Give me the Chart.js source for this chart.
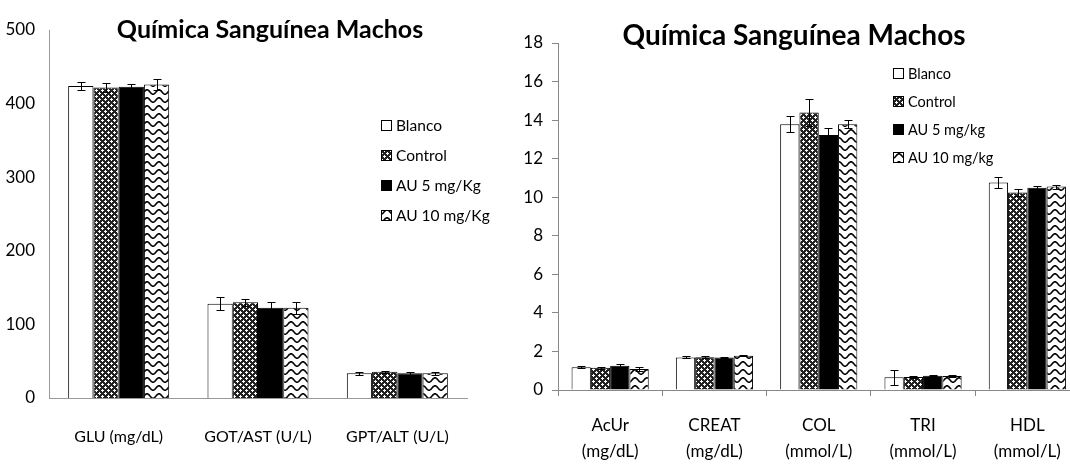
<!DOCTYPE html>
<html>
<head>
<meta charset="utf-8">
<script src="https://cdn.jsdelivr.net/npm/chart.js@4.4.1/dist/chart.umd.min.js"></script>
<style>
  html, body { margin: 0; padding: 0; background: #fff; }
  #left { position: absolute; left: 0; top: 0; width: 500px; height: 466px; }
  #right { position: absolute; left: 500px; top: 0; width: 570px; height: 466px; overflow: hidden; }
</style>
</head>
<body>
<div id="left"><canvas id="left-chart" width="500" height="466"></canvas></div>
<div id="right"><canvas id="right-chart" width="590" height="466"></canvas></div>
<script>
// ---- data ----
const titleText = "Química Sanguínea Machos";

const leftLabels = ["Blanco", "Control", "AU 5 mg/Kg", "AU 10 mg/Kg"];
const leftCategories = ["GLU (mg/dL)", "GOT/AST (U/L)", "GPT/ALT (U/L)"];
const leftBlanco = [424, 128, 33.5];
const leftBlancoErr = [6, 9, 2];
const leftControl = [422, 130, 35.5];
const leftControlErr = [6, 5, 1.5];
const leftAU5 = [423, 122.5, 33.5];
const leftAU5Err = [3, 8, 2];
const leftAU10 = [426, 122.5, 33.5];
const leftAU10Err = [8, 8, 2];
const leftTicks = [0, 100, 200, 300, 400, 500];

const rightLabels = ["Blanco", "Control", "AU 5 mg/kg", "AU 10 mg/kg"];
const rightCategories = [
  ["AcUr", "(mg/dL)"],
  ["CREAT", "(mg/dL)"],
  ["COL", "(mmol/L)"],
  ["TRI", "(mmol/L)"],
  ["HDL", "(mmol/L)"],
];
const rightBlanco = [1.18, 1.69, 13.78, 0.66, 10.77];
const rightBlancoErr = [0.05, 0.05, 0.41, 0.39, 0.29];
const rightControl = [1.16, 1.7, 14.4, 0.68, 10.25];
const rightControlErr = [0.05, 0.05, 0.7, 0.05, 0.2];
const rightAU5 = [1.26, 1.69, 13.23, 0.74, 10.49];
const rightAU5Err = [0.1, 0.03, 0.35, 0.03, 0.1];
const rightAU10 = [1.09, 1.78, 13.78, 0.72, 10.55];
const rightAU10Err = [0.12, 0.03, 0.2, 0.04, 0.1];

// ---- fill patterns ----
const makeTile = (w, h, draw) => {
  const c = document.createElement("canvas");
  c.width = w;
  c.height = h;
  draw(c.getContext("2d"));
  return document.createElement("canvas").getContext("2d").createPattern(c, "repeat");
};

const checkPattern = makeTile(6, 6, (g) => {
  g.fillStyle = "#222";
  g.fillRect(0, 0, 6, 6);
  g.fillStyle = "#fff";
  g.fillRect(3, 2, 1, 3);
  g.fillRect(2, 3, 3, 1);
  g.fillRect(0, 0, 1, 1);
  g.fillRect(5, 0, 1, 1);
  g.fillRect(0, 5, 1, 1);
  g.fillRect(1, 0, 1, 1);
  g.fillRect(0, 1, 1, 1);
});

const wavePattern = makeTile(12, 8, (g) => {
  g.fillStyle = "#fff";
  g.fillRect(0, 0, 12, 8);
  g.strokeStyle = "#000";
  g.lineWidth = 1.6;
  g.beginPath();
  for (let x = -1; x <= 13; x += 0.5) {
    const y = 4 - 2.2 * Math.sin((2 * Math.PI * x) / 12);
    if (x === -1) g.moveTo(x, y);
    else g.lineTo(x, y);
  }
  g.stroke();
});

const fills = ["#fff", checkPattern, "#000", wavePattern];

// ---- plugins ----
const errorBars = {
  id: "errorBars",
  afterDatasetsDraw(chart) {
    const { ctx } = chart;
    const y = chart.scales.y;
    ctx.save();
    ctx.strokeStyle = "#000";
    ctx.lineWidth = 1;
    chart.data.datasets.forEach((ds, i) => {
      chart.getDatasetMeta(i).data.forEach((bar, j) => {
        const v = ds.data[j];
        const e = ds.errors[j];
        const top = Math.round(y.getPixelForValue(v + e)) + 0.5;
        const bot = Math.round(y.getPixelForValue(v - e)) + 0.5;
        const x = Math.round(bar.x) + 0.5;
        ctx.beginPath();
        ctx.moveTo(x, top);
        ctx.lineTo(x, bot);
        ctx.moveTo(x - 4, top);
        ctx.lineTo(x + 4, top);
        ctx.moveTo(x - 4, bot);
        ctx.lineTo(x + 4, bot);
        ctx.stroke();
      });
    });
    ctx.restore();
  },
};

const decor = {
  id: "decor",
  afterDraw(chart, args, opts) {
    const { ctx } = chart;
    ctx.save();
    ctx.fillStyle = "#000";
    ctx.textAlign = "center";
    ctx.textBaseline = "middle";
    ctx.font = opts.titleFont;
    ctx.fillText(opts.title, opts.titleX, opts.titleY);
    ctx.font = opts.legendFont;
    ctx.textAlign = "left";
    chart.data.datasets.forEach((ds, i) => {
      const cy = opts.legendY + i * opts.legendGap;
      ctx.fillStyle = ds.backgroundColor;
      ctx.fillRect(opts.legendX, cy - 5, 10, 10);
      ctx.strokeStyle = "#000";
      ctx.lineWidth = 1;
      ctx.strokeRect(opts.legendX + 0.5, cy - 4.5, 10, 10);
      ctx.fillStyle = "#000";
      ctx.fillText(ds.label, opts.legendX + 15, cy + 1);
    });
    ctx.restore();
  },
};

const makeDatasets = (labels, values, errors) =>
  labels.map((label, i) => ({
    label: label,
    data: values[i],
    errors: errors[i],
    backgroundColor: fills[i],
    borderColor: "#000",
    borderWidth: 1,
  }));

Chart.defaults.font.family = "Lato, 'Open Sans', sans-serif";
Chart.defaults.color = "#000";

new Chart(document.querySelector("#left-chart"), {
  type: "bar",
  data: {
    labels: leftCategories,
    datasets: makeDatasets(
      leftLabels,
      [leftBlanco, leftControl, leftAU5, leftAU10],
      [leftBlancoErr, leftControlErr, leftAU5Err, leftAU10Err]
    ),
  },
  options: {
    responsive: false,
    animation: false,
    layout: { padding: { top: 30, right: 33, left: 0, bottom: 0 } },
    datasets: { bar: { categoryPercentage: 0.725, barPercentage: 1 } },
    plugins: {
      legend: { display: false },
      tooltip: { enabled: false },
      decor: {
        title: titleText,
        titleX: 270,
        titleY: 30,
        titleFont: "bold 25px Lato, sans-serif",
        legendX: 381,
        legendY: 125,
        legendGap: 30,
        legendFont: "15.5px Lato, sans-serif",
      },
    },
    scales: {
      x: {
        grid: { display: false },
        border: { display: true, color: "#999" },
        ticks: { font: { size: 16 }, padding: 21 },
        afterFit: (s) => { s.height = 68; },
      },
      y: {
        min: 0,
        max: 500,
        grid: { display: false, drawTicks: false },
        border: { display: true, color: "#999" },
        afterBuildTicks: (s) => { s.ticks = leftTicks.map((v) => ({ value: v })); },
        ticks: { font: { size: 17 }, padding: 14 },
        afterFit: (s) => { s.width = 49; },
      },
    },
  },
  plugins: [errorBars, decor],
});

new Chart(document.querySelector("#right-chart"), {
  type: "bar",
  data: {
    labels: rightCategories,
    datasets: makeDatasets(
      rightLabels,
      [rightBlanco, rightControl, rightAU5, rightAU10],
      [rightBlancoErr, rightControlErr, rightAU5Err, rightAU10Err]
    ),
  },
  options: {
    responsive: false,
    animation: false,
    layout: { padding: { top: 43, right: 10.5, left: 0, bottom: 0 } },
    datasets: { bar: { categoryPercentage: 0.74, barPercentage: 1 } },
    plugins: {
      legend: { display: false },
      tooltip: { enabled: false },
      decor: {
        title: titleText,
        titleX: 294,
        titleY: 36,
        titleFont: "bold 28px Lato, sans-serif",
        legendX: 393,
        legendY: 73,
        legendGap: 28,
        legendFont: "14.5px Lato, sans-serif",
      },
    },
    scales: {
      x: {
        grid: { display: true, drawOnChartArea: false, tickLength: 6, color: "#888" },
        border: { display: true, color: "#888" },
        ticks: { font: { size: 17, lineHeight: 1.5 }, padding: 17 },
        afterFit: (s) => { s.height = 76; },
      },
      y: {
        min: 0,
        max: 18,
        grid: { display: true, drawOnChartArea: false, tickLength: 6, color: "#888" },
        border: { display: true, color: "#888" },
        ticks: { stepSize: 2, font: { size: 17 }, padding: 9 },
        afterFit: (s) => { s.width = 58; },
      },
    },
  },
  plugins: [errorBars, decor],
});
</script>
</body>
</html>
